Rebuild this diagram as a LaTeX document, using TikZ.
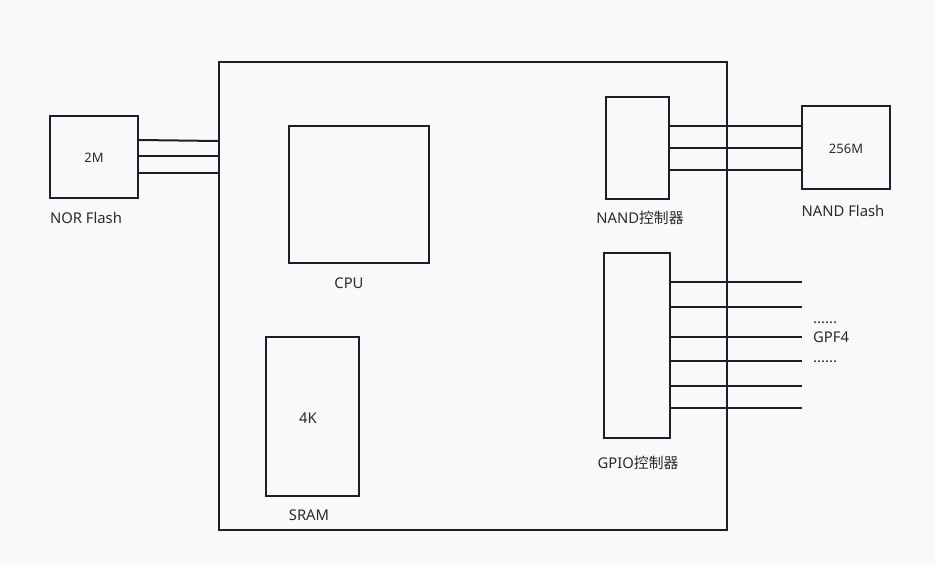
\documentclass[tikz,border=0pt]{standalone}
\usepackage{fontspec}
\setmainfont{Noto Sans}
\newfontfamily\cjk{Noto Sans CJK SC}
\definecolor{bg}{HTML}{F8F9FB}
\definecolor{ink}{HTML}{1E1F24}
\definecolor{txt}{HTML}{2B2B2B}
\begin{document}
\begin{tikzpicture}[x=1pt,y=-1pt,
  blk/.style={draw=ink,line width=2pt,inner sep=0pt},
  wire/.style={draw=ink,line width=2pt},
  lbl/.style={text=txt,font=\fontsize{14.8}{16}\selectfont,inner sep=0pt},
  inl/.style={text=txt,font=\fontsize{13}{15}\selectfont,inner sep=0pt}]
\fill[bg] (0,0) rectangle (935,565);
\useasboundingbox (0,0) rectangle (935,565);
% main board
\node[blk,minimum width=508pt,minimum height=468pt] (board) at (473,296) {};
% NOR flash
\node[blk,minimum width=88pt,minimum height=82pt] (nor) at (94,157) {};
\node[inl] (nort) at (94,158) {2M};
\node[lbl] (norl) at (86,218) {NOR Flash};
\coordinate (n1a) at (nor.east |- 0,140);
\coordinate (n1b) at (board.west |- 0,141);
\coordinate (n2a) at (nor.east |- 0,156);
\coordinate (n2b) at (board.west |- 0,156);
\coordinate (n3a) at (nor.east |- 0,172.5);
\coordinate (n3b) at (board.west |- 0,172.5);
\draw[wire] (n1a) -- (n1b);
\draw[wire] (n2a) -- (n2b);
\draw[wire] (n3a) -- (n3b);
% CPU
\node[blk,minimum width=140pt,minimum height=137pt] (cpu) at (359,194.5) {};
\node[lbl] (cpul) at (349,283) {CPU};
% SRAM
\node[blk,minimum width=93pt,minimum height=159pt] (sram) at (312.5,416.5) {};
\node[lbl] (sramt) at (308,418) {4K};
\node[lbl] (sraml) at (309,515) {SRAM};
% NAND controller
\node[blk,minimum width=63pt,minimum height=102pt] (nandc) at (637.5,148) {};
\node[lbl] (nandcl) at (640,218) {NAND{\cjk 控制器}};
% NAND flash
\node[blk,minimum width=88pt,minimum height=83pt] (nandf) at (846,147.5) {};
\node[inl] (nandft) at (846,149) {256M};
\node[lbl] (nandfl) at (843,211) {NAND Flash};
\foreach \y/\i in {126/1,148/2,170/3}{
  \coordinate (a\i) at (nandc.east |- 0,\y);
  \coordinate (b\i) at (nandf.west |- 0,\y);
  \draw[wire] (a\i) -- (b\i);
}
% GPIO controller
\node[blk,minimum width=66pt,minimum height=185pt] (gpio) at (637,345.5) {};
\node[lbl] (gpiol) at (638,463) {GPIO{\cjk 控制器}};
\foreach \y/\i in {282/1,307/2,337/3,361/4,386/5,408/6}{
  \coordinate (g\i) at (gpio.east |- 0,\y);
  \coordinate (h\i) at (802,\y);
  \draw[wire] (g\i) -- (h\i);
}
\node[lbl,anchor=base west] (dots1) at (813,323) {......};
\node[lbl,anchor=west] (gpf) at (813,337) {GPF4};
\node[lbl,anchor=base west] (dots2) at (813,362) {......};
\end{tikzpicture}
\end{document}
